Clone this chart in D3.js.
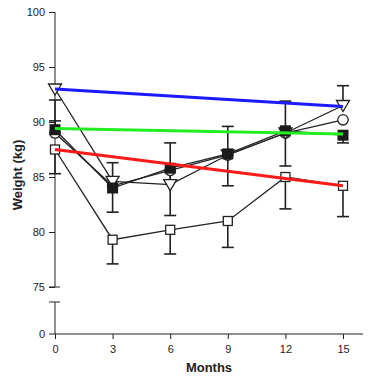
<!DOCTYPE html>
<html>
<head>
<meta charset="utf-8">
<script src="https://cdn.jsdelivr.net/npm/d3@7"></script>
<style>
  body { margin: 0; background: #fff; }
  text { font-family: "Liberation Sans", Arial, sans-serif; fill: #222; }
</style>
</head>
<body>
<div id="chart"></div>
<script>
// Chart data
const months = [0, 3, 6, 9, 12, 15];
const yTicks = [75, 80, 85, 90, 95, 100];

const openSquare = [87.5, 79.3, 80.2, 81.0, 85.0, 84.2];
const openSquareUp = [0, 0, 0, 0, 0, 0];
const openSquareDown = [2.2, 2.2, 2.2, 2.4, 2.9, 2.8];
const filledSquare = [89.3, 84.0, 85.8, 87.1, 89.2, 88.8];
const filledSquareUp = [0.8, 0, 0, 0, 0, 0];
const filledSquareDown = [0, 2.2, 4.3, 2.9, 3.2, 0.7];
const triangle = [93.0, 84.6, 84.3, 87.0, 89.0, 91.5];
const triangleUp = [0, 1.7, 3.8, 2.6, 2.9, 1.8];
const triangleDown = [0, 0, 0, 0, 0, 0];
const circle = [89.0, 84.2, 85.6, 87.0, 89.0, 90.2];
const circleUp = [3.0, 0, 0, 0, 0, 0];
const circleDown = [0, 0, 0, 0, 0, 0];

// Regression lines: [start, end] over months 0..15
const blueFit = [93.0, 91.4];
const greenFit = [89.4, 88.9];
const redFit = [87.5, 84.2];

const width = 373, height = 378;
const svg = d3.select('#chart').append('svg')
    .attr('width', width)
    .attr('height', height);

const x = d3.scaleLinear().domain([0, 15]).range([55, 343]);
const y = d3.scaleLinear().domain([75, 100]).range([287, 12]);
const yZero = 334;
const ink = '#222';

// y axis upper segment
const yAxis = svg.append('g').attr('transform', 'translate(55,0)')
    .call(d3.axisLeft(y).tickValues(yTicks).tickSize(6).tickPadding(4));
yAxis.select('.domain').remove();
yAxis.selectAll('line').attr('stroke', ink);
yAxis.selectAll('text').style('font-size', '11px');
svg.append('line').attr('x1', 55).attr('x2', 55).attr('y1', y(100)).attr('y2', y(75))
    .attr('stroke', ink).attr('stroke-width', 1);
svg.append('line').attr('x1', 49).attr('x2', 60).attr('y1', y(75)).attr('y2', y(75))
    .attr('stroke', ink);

// lower segment after the break
svg.append('line').attr('x1', 55).attr('x2', 55).attr('y1', 302).attr('y2', yZero)
    .attr('stroke', ink);
svg.append('line').attr('x1', 49).attr('x2', 60).attr('y1', 302).attr('y2', 302)
    .attr('stroke', ink);
svg.append('line').attr('x1', 49).attr('x2', 55).attr('y1', yZero).attr('y2', yZero)
    .attr('stroke', ink);
svg.append('text').attr('x', 45).attr('y', yZero + 4).attr('text-anchor', 'end')
    .style('font-size', '11px').text('0');

// x axis
const xAxis = svg.append('g').attr('transform', `translate(0,${yZero})`)
    .call(d3.axisBottom(x).tickValues(months).tickSize(5).tickPadding(6));
xAxis.select('.domain').remove();
xAxis.selectAll('line').attr('stroke', ink);
xAxis.selectAll('text').style('font-size', '11px');
svg.append('line').attr('x1', 55).attr('x2', 363).attr('y1', yZero).attr('y2', yZero)
    .attr('stroke', ink);

// axis titles
svg.append('text').attr('transform', 'translate(22,175) rotate(-90)')
    .attr('text-anchor', 'middle').style('font-size', '13px').style('font-weight', 'bold')
    .text('Weight (kg)');
svg.append('text').attr('x', 209).attr('y', 372)
    .attr('text-anchor', 'middle').style('font-size', '13px').style('font-weight', 'bold')
    .text('Months');

const series = [
    { values: circle, up: circleUp, down: circleDown, shape: 'circle' },
    { values: triangle, up: triangleUp, down: triangleDown, shape: 'triangle' },
    { values: filledSquare, up: filledSquareUp, down: filledSquareDown, shape: 'filled' },
    { values: openSquare, up: openSquareUp, down: openSquareDown, shape: 'open' }
];

const line = d3.line().x((d, i) => x(months[i])).y(d => y(d));

// one-sided error bars
function errorBar(g, cx, from, to) {
    g.append('line').attr('x1', cx).attr('x2', cx).attr('y1', y(from)).attr('y2', y(to));
    g.append('line').attr('x1', cx - 6).attr('x2', cx + 6).attr('y1', y(to)).attr('y2', y(to));
}
series.forEach(s => {
    const g = svg.append('g').attr('stroke', ink).attr('stroke-width', 1.6);
    s.values.forEach((v, i) => {
        const cx = x(months[i]);
        if (s.up[i]) errorBar(g, cx, v, v + s.up[i]);
        if (s.down[i]) errorBar(g, cx, v, v - s.down[i]);
    });
});

// connecting lines
series.forEach(s => {
    svg.append('path').datum(s.values).attr('d', line)
        .attr('fill', 'none').attr('stroke', ink).attr('stroke-width', 1.3);
});

// markers
series.forEach(s => {
    const g = svg.append('g');
    s.values.forEach((v, i) => {
        const cx = x(months[i]), cy = y(v);
        if (s.shape === 'circle') {
            g.append('circle').attr('cx', cx).attr('cy', cy).attr('r', 5.2)
                .attr('fill', '#fff').attr('stroke', ink).attr('stroke-width', 1.3);
        } else if (s.shape === 'triangle') {
            g.append('path')
                .attr('d', `M${cx - 6.5},${cy - 5} L${cx + 6.5},${cy - 5} L${cx},${cy + 6} Z`)
                .attr('fill', '#fff').attr('stroke', ink).attr('stroke-width', 1.3);
        } else if (s.shape === 'filled') {
            g.append('rect').attr('x', cx - 5.5).attr('y', cy - 5.5).attr('width', 11).attr('height', 11)
                .attr('fill', '#1a1a1a');
        } else {
            g.append('rect').attr('x', cx - 4.5).attr('y', cy - 4.5).attr('width', 9).attr('height', 9)
                .attr('fill', '#fff').attr('stroke', ink).attr('stroke-width', 1.3);
        }
    });
});

// regression lines
[[blueFit, '#1a1aff'], [greenFit, '#22ee22'], [redFit, '#ff1a1a']].forEach(([fit, color]) => {
    svg.append('line')
        .attr('x1', x(0)).attr('y1', y(fit[0]))
        .attr('x2', x(15)).attr('y2', y(fit[1]))
        .attr('stroke', color).attr('stroke-width', 3);
});
</script>
</body>
</html>
